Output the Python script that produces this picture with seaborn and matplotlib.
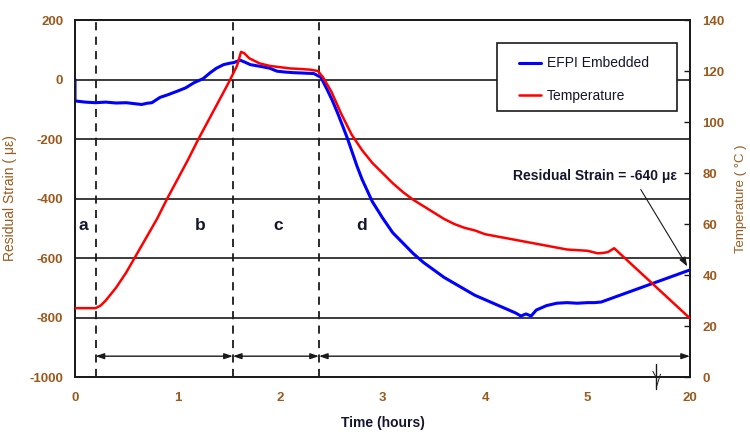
import numpy as np
import pandas as pd
import matplotlib
matplotlib.use("Agg")
import matplotlib.pyplot as plt
from matplotlib.lines import Line2D
from matplotlib.patches import Rectangle
import seaborn as sns

# ---- data -------------------------------------------------------------
# EFPI embedded sensor strain (micro-strain) versus time (hours)
strain_time = [0.0, 0.0, 0.05, 0.1, 0.2, 0.3, 0.4, 0.5, 0.6, 0.65, 0.7, 0.75,
               0.83, 0.9, 1.0, 1.08, 1.16, 1.25, 1.32, 1.38, 1.45, 1.5, 1.55,
               1.61, 1.66, 1.71, 1.81, 1.9, 1.97, 2.05, 2.13, 2.2, 2.33, 2.4,
               2.46, 2.51, 2.56, 2.61, 2.66, 2.7, 2.75, 2.8, 2.9, 3.0, 3.1,
               3.2, 3.3, 3.4, 3.5, 3.6, 3.7, 3.8, 3.9, 4.0, 4.1, 4.2, 4.3,
               4.35, 4.4, 4.45, 4.5, 4.6, 4.7, 4.8, 4.9, 5.0, 6.0, 7.0, 20.0]
strain_value = [0, -72, -74, -76, -78, -76, -79, -78, -82, -84, -80, -78,
                -60, -52, -39, -28, -11, 3, 23, 38, 50, 54, 57,
                65, 58, 50, 44, 38, 28, 25, 23, 22, 20, 7,
                -34, -70, -111, -155, -200, -240, -290, -335, -410, -465, -515,
                -550, -585, -615, -640, -665, -685, -705, -725, -740, -755, -770, -785,
                -795, -788, -795, -775, -760, -752, -750, -752, -750, -750, -748, -640]

# Cure temperature (deg C) versus time (hours)
temp_time = [0.0, 0.2, 0.25, 0.3, 0.4, 0.5, 0.6, 0.7, 0.8, 0.9, 1.0, 1.1, 1.2,
             1.3, 1.4, 1.5, 1.58, 1.62, 1.65, 1.7, 1.8, 1.9, 2.0, 2.1, 2.2,
             2.3, 2.37, 2.42, 2.5, 2.6, 2.7, 2.8, 2.9, 3.0, 3.1, 3.2, 3.3,
             3.4, 3.5, 3.6, 3.7, 3.8, 3.9, 4.0, 4.2, 4.4, 4.6, 4.8, 5.0,
             6.5, 7.4, 8.0, 8.9, 20.0]
temp_value = [27, 27, 28, 30, 35, 41, 48, 55, 62, 70, 77.5, 85, 93,
              100.5, 108, 115.5, 122, 127.5, 127, 125, 123, 122, 121.5, 121, 120.8,
              120.5, 120, 117.5, 112, 103, 95, 89, 84, 80, 76, 72.5, 69.5,
              67, 64.5, 62, 60, 58.5, 57.5, 56, 54.5, 53, 51.5, 50, 49.5,
              48.5, 48.7, 49, 50.5, 23]

# cure stage boundaries (hours) and stage letters
stage_bounds = [0.2, 1.54, 2.38]
stage_letters = ["a", "b", "c", "d"]
stage_letter_x = [0.08, 1.22, 1.98, 2.8]

x_ticks = [0, 1, 2, 3, 4, 5, 20]
strain_ticks = [-1000, -800, -600, -400, -200, 0, 200]
temp_ticks = [0, 20, 40, 60, 80, 100, 120, 140]

series_names = ["EFPI Embedded", "Temperature"]
residual_strain = -640
end_time = 20.0

# ---- styling ----------------------------------------------------------
sns.set_style("white")
plt.rcParams["font.family"] = ["Liberation Sans", "DejaVu Sans"]
tick_color = "#9a5a1e"
text_color = "#15152e"
ink = "#1a1a1a"

strain_df = pd.DataFrame({"time": strain_time, "strain": strain_value})
temp_df = pd.DataFrame({"time": temp_time, "temp": temp_value})


# time axis is linear up to 5 h, then 5-20 h is squeezed into one unit
def fwd(t):
    t = np.asarray(t, dtype=float)
    return np.where(t <= 5, t, 5 + (t - 5) / 15.0)


def inv(d):
    d = np.asarray(d, dtype=float)
    return np.where(d <= 5, d, 5 + (d - 5) * 15.0)


fig = plt.figure(figsize=(7.5, 4.32), dpi=100)
ax = fig.add_axes([0.1, 0.1273, 0.82, 0.8264])
ax2 = ax.twinx()

ax.set_xscale("function", functions=(fwd, inv))
ax.set_xlim(0, end_time)
ax.set_ylim(-1000, 200)
ax2.set_ylim(0, 140)

# horizontal grid from the strain axis
for v in strain_ticks[1:-1]:
    ax.axhline(v, color=ink, lw=1.2, zorder=1)

# stage boundaries
for b in stage_bounds:
    ax.axvline(b, color=ink, lw=1.3, ls=(0, (4.5, 3.5)), zorder=2)

sns.lineplot(data=strain_df, x="time", y="strain", ax=ax, color="#0000ff",
             lw=2.2, sort=False, estimator=None, zorder=4, legend=False)
sns.lineplot(data=temp_df, x="time", y="temp", ax=ax2, color="#ff0000",
             lw=1.8, sort=False, estimator=None, zorder=4, legend=False)

# stage extent arrows
arrow_y = -930
edges = stage_bounds + [end_time]
for x0, x1 in zip(edges[:-1], edges[1:]):
    ax.annotate("", xy=(x1, arrow_y), xytext=(x0, arrow_y),
                arrowprops=dict(arrowstyle="<|-|>,head_length=0.5,head_width=0.17",
                                color=ink, lw=1.0, shrinkA=0, shrinkB=0))

for lx, letter in zip(stage_letter_x, stage_letters):
    ax.text(lx, -490, letter, fontsize=12.5, fontweight="bold",
            color=text_color, ha="center", va="center")

# residual strain call-out
ax.text(6.07, -323, "Residual Strain = -640 με", fontsize=10,
        fontweight="bold", color=text_color, ha="center", va="center")
ax.annotate("", xy=(19.6, residual_strain + 12), xytext=(12.8, -370),
            arrowprops=dict(arrowstyle="-|>,head_length=0.55,head_width=0.2",
                            color=ink, lw=0.8, shrinkA=0, shrinkB=0))

# axis break mark on the time axis
ax.plot([0.9447, 0.9447], [0.036, -0.034], color=ink, lw=1.0,
        transform=ax.transAxes, clip_on=False)
ax.plot([0.9395, 0.944], [0.016, 0.002], color=ink, lw=0.7,
        transform=ax.transAxes, clip_on=False)
ax.plot([0.946, 0.952], [-0.025, 0.008], color=ink, lw=0.7,
        transform=ax.transAxes, clip_on=False)

# ticks and labels
ax.set_xticks(x_ticks)
ax.set_xticklabels([str(v) for v in x_ticks])
ax.set_yticks(strain_ticks)
ax.set_yticklabels([str(v) for v in strain_ticks])
ax2.set_yticks(temp_ticks)
ax2.set_yticklabels([str(v) for v in temp_ticks])

ax.tick_params(axis="x", direction="in", length=3, width=1.0, pad=11,
               labelsize=9.5, labelcolor=tick_color, color=ink)
ax.tick_params(axis="y", length=0, pad=8.5, labelsize=9.5,
               labelcolor=tick_color)
ax2.tick_params(axis="y", direction="in", length=4, width=1.0, pad=9,
                labelsize=9.5, labelcolor=tick_color, color=ink)
for lab in ax.get_xticklabels() + ax.get_yticklabels() + ax2.get_yticklabels():
    lab.set_fontweight("bold")

ax.set_xlabel("Time (hours)", fontsize=10, fontweight="bold", color=text_color)
ax.set_ylabel("Residual Strain ( με)", fontsize=10, color=tick_color)
ax2.set_ylabel("Temperature ( °C )", fontsize=9.5, color=tick_color)
ax.xaxis.set_label_coords(0.5, -0.108)
ax.yaxis.set_label_coords(-0.094, 0.5)
ax2.yaxis.set_label_coords(1.073, 0.5)

for a in (ax, ax2):
    for s in a.spines.values():
        s.set_color(ink)
        s.set_linewidth(1.3)

# legend: square white box with the entries inset from its left edge
box = Rectangle((0.686, 0.745), 0.293, 0.191, transform=ax2.transAxes,
                facecolor="white", edgecolor=ink, lw=1.2, zorder=9)
ax2.add_patch(box)
handles = [Line2D([], [], color="#0000ff", lw=2.2),
           Line2D([], [], color="#ff0000", lw=1.8)]
leg = ax2.legend(handles, series_names, loc="upper left",
                 bbox_to_anchor=(0.722, 0.898), fontsize=10, frameon=False,
                 borderpad=0, labelspacing=1.35, handlelength=1.6,
                 handletextpad=0.4, borderaxespad=0)
for t in leg.get_texts():
    t.set_color(text_color)
leg.set_zorder(10)

fig.savefig("out.png", dpi=100)
